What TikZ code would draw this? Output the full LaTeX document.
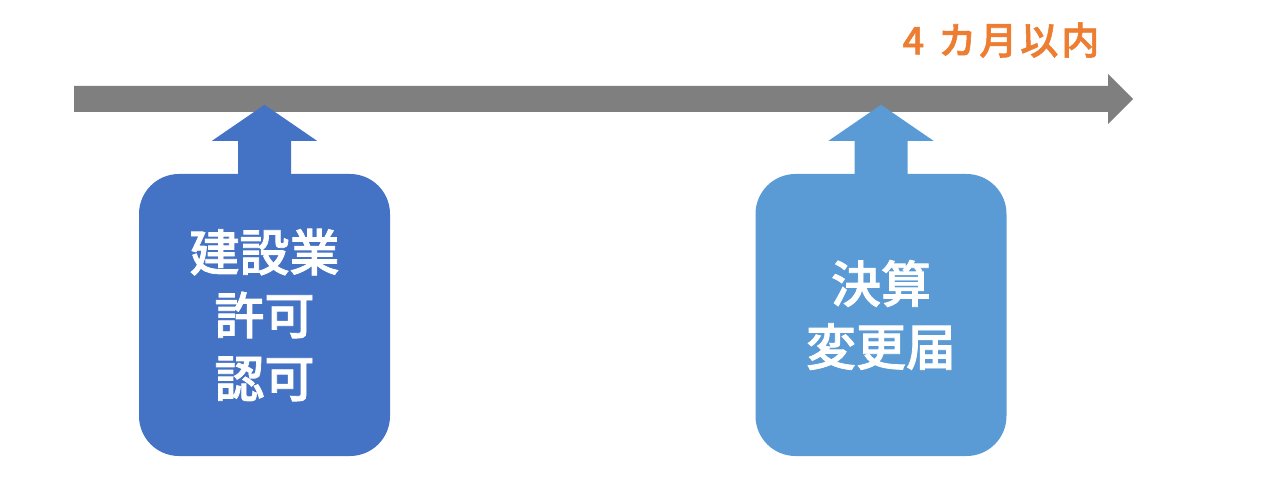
\documentclass[tikz,border=0pt]{standalone}
\usepackage{fontspec}
\usepackage{xcolor}
\newfontfamily\jp{Noto Sans CJK JP Medium}[FakeBold=1.5]
\definecolor{barGray}{HTML}{7F7F7F}
\definecolor{darkBlue}{HTML}{4472C4}
\definecolor{lightBlue}{HTML}{5B9BD5}
\definecolor{limitOrange}{HTML}{ED7D31}
\newcommand{\upblock}[2]{\fill[#2] (#1.north) ++(-26.5,-1) -- ++(0,34) -- ++(-26,0) -- ++(52.5,36) -- ++(52.5,-36) -- ++(-26,0) -- ++(0,-34) -- cycle;}

\begin{document}
\begin{tikzpicture}[x=1pt, y=1pt]
      \useasboundingbox (0,0) rectangle (1264,480);
      \tikzset{box/.style={rounded corners=40pt, minimum width=251pt, minimum height=282pt, text=white, align=center, inner sep=0pt, font=\jp\fontsize{50}{63}\selectfont}}
      \coordinate (start) at (74, 381);
      \coordinate (end) at (1133, 381);
      \fill[barGray] (start) ++(0,-13) -- ++(1034,0) -- ++(0,-12) -- (end) -- ++(-25,25) -- ++(0,-12) -- ++(-1034,0) -- cycle;
      \node[box, fill=darkBlue] (kyoka) at (264.5, 165) {建設業\\許可\\認可};
      \node[box, fill=lightBlue] (kessan) at (881, 165) {決算\\変更届};
      \upblock{kyoka}{darkBlue}
      \upblock{kessan}{lightBlue}
      \node[text=limitOrange, font=\jp\fontsize{38}{38}\selectfont] (limit) at (1001, 440) {4\hspace{14pt}カ\hspace{3pt}月\hspace{3pt}以\hspace{3pt}内};
    \end{tikzpicture}
\end{document}
